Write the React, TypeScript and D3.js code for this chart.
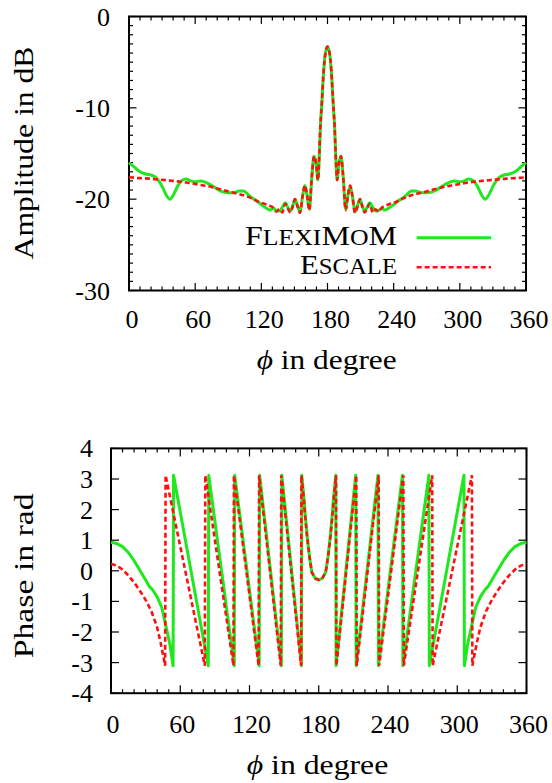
import React from 'react';
import * as d3 from 'd3';

// ---------- data ----------
const ampPhi = [0, 5, 10, 15, 20, 25, 30, 34, 37, 40, 44, 48, 52, 56, 60, 65, 70, 75, 80, 85, 90, 95, 100, 104, 108, 112, 116, 120, 124, 128, 131, 133.5, 136.5, 139, 141.8, 144, 146.3, 148.5, 150.5, 152.8, 155, 157.5, 159.5, 161.5, 163.5, 165.8, 167.8, 169.8, 171.3, 172.3, 173.5, 175, 176.5, 178, 180, 182, 183.5, 185, 186.5, 187.7, 188.7, 190.2, 192.2, 194.2, 196.5, 198.5, 200.5, 202.5, 205, 207.2, 209.5, 211.5, 213.7, 216, 218.2, 221, 223.5, 226.5, 229, 232, 236, 240, 244, 248, 252, 256, 260, 265, 270, 275, 280, 285, 290, 295, 300, 304, 308, 312, 316, 320, 323, 326, 330, 335, 340, 345, 350, 355, 360];

const ampFlexiMoM = [-16.0, -16.5, -17.0, -17.25, -17.35, -17.7, -18.6, -19.6, -20.0, -19.6, -18.6, -17.95, -17.8, -18.0, -18.1, -18.0, -18.2, -18.5, -18.9, -19.2, -19.3, -19.3, -19.1, -19.1, -19.5, -19.9, -20.2, -20.6, -20.95, -21.2, -21.0, -21.25, -21.3, -20.9, -20.4, -20.9, -21.3, -20.7, -20.0, -20.7, -21.4, -19.6, -18.5, -19.6, -21.1, -17.5, -15.3, -16.2, -17.9, -16.0, -12.2, -9.2, -6.0, -4.1, -3.3, -4.1, -6.0, -9.2, -12.2, -16.0, -17.9, -16.2, -15.3, -17.5, -21.1, -19.6, -18.6, -19.6, -21.4, -20.7, -20.0, -20.7, -21.3, -20.9, -20.4, -20.9, -21.3, -21.25, -21.0, -21.2, -20.95, -20.6, -20.2, -19.9, -19.5, -19.1, -19.1, -19.3, -19.3, -19.2, -18.9, -18.5, -18.2, -18.0, -18.1, -18.0, -17.8, -17.95, -18.6, -19.6, -20.0, -19.6, -18.6, -17.7, -17.35, -17.25, -17.0, -16.5, -16.0];

const ampEscale = [-17.6, -17.65, -17.7, -17.72, -17.78, -17.83, -17.88, -17.93, -17.97, -18.0, -18.05, -18.1, -18.17, -18.25, -18.33, -18.45, -18.55, -18.67, -18.82, -18.98, -19.15, -19.3, -19.45, -19.58, -19.75, -19.95, -20.2, -20.4, -20.55, -20.75, -20.95, -21.35, -21.1, -21.45, -20.5, -21.0, -21.45, -20.8, -20.0, -20.8, -21.5, -19.6, -18.5, -19.6, -21.2, -17.5, -15.3, -16.2, -17.9, -16.0, -12.2, -9.2, -6.0, -4.1, -3.3, -4.1, -6.0, -9.2, -12.2, -16.0, -17.9, -16.2, -15.3, -17.5, -21.2, -19.6, -18.5, -19.6, -21.5, -20.8, -20.0, -20.8, -21.45, -21.0, -20.5, -21.45, -21.1, -21.35, -20.95, -20.75, -20.55, -20.4, -20.2, -19.95, -19.75, -19.58, -19.45, -19.3, -19.15, -18.98, -18.82, -18.67, -18.55, -18.45, -18.33, -18.25, -18.17, -18.1, -18.05, -18.0, -17.97, -17.93, -17.88, -17.83, -17.78, -17.72, -17.7, -17.65, -17.6];

const phaseFlexiPhi = [0, 5, 10, 15, 20, 25, 30, 33, 36, 40, 44, 47, 51, 53.8, 54.2, 84.3, 84.7, 106.8, 107.2, 128.4, 128.8, 147.6, 148, 165, 165.3, 167, 168.5, 170, 172, 174, 177, 180, 183, 186, 188, 190, 191.5, 193, 194.7, 195, 212, 212.4, 231.3, 231.7, 252.5, 252.9, 275.4, 275.8, 305.8, 306.2, 309, 313, 316, 320, 324, 327, 330, 335, 340, 345, 350, 355, 360];
const phaseFlexiVal = [0.93, 0.89, 0.79, 0.6, 0.33, 0.02, -0.3, -0.5, -0.62, -0.85, -1.2, -1.7, -2.4, -3.1, 3.12, -3.1, 3.12, -3.1, 3.12, -3.1, 3.12, -3.1, 3.12, -3.1, 3.12, 2.45, 1.75, 1.14, 0.45, -0.05, -0.25, -0.3, -0.25, -0.05, 0.45, 1.14, 1.75, 2.45, 3.12, -3.1, 3.12, -3.1, 3.12, -3.1, 3.12, -3.1, 3.12, -3.1, 3.12, -3.1, -2.4, -1.7, -1.2, -0.85, -0.62, -0.5, -0.3, 0.02, 0.33, 0.6, 0.79, 0.89, 0.93];

const phaseEscalePhi = [0, 5, 10, 15, 20, 25, 30, 35, 40, 43, 46.9, 47.3, 81.3, 81.7, 106.1, 106.5, 127.9, 128.3, 147.1, 147.5, 164.7, 165, 166.8, 168.3, 169.8, 172, 174, 177, 180, 183, 186, 188, 190.2, 191.7, 193.2, 195, 195.3, 212.5, 212.9, 231.9, 232.3, 253.3, 253.7, 278.3, 278.7, 312.7, 313.1, 317, 320, 325, 330, 335, 340, 345, 350, 355, 360];
const phaseEscaleVal = [0.22, 0.17, 0.04, -0.15, -0.38, -0.65, -0.95, -1.32, -1.85, -2.35, -3.1, 3.12, -3.1, 3.12, -3.1, 3.12, -3.1, 3.12, -3.1, 3.12, -3.1, 3.12, 2.45, 1.75, 1.14, 0.45, -0.05, -0.25, -0.3, -0.25, -0.05, 0.45, 1.14, 1.75, 2.45, 3.12, -3.1, 3.12, -3.1, 3.12, -3.1, 3.12, -3.1, 3.12, -3.1, 3.12, -3.1, -2.35, -1.85, -1.32, -0.95, -0.65, -0.38, -0.15, 0.04, 0.17, 0.22];

const xTickLabels = [0, 60, 120, 180, 240, 300, 360];
const ampTickLabels = [0, -10, -20, -30];
const phaseTickLabels = [4, 3, 2, 1, 0, -1, -2, -3, -4];

const GREEN = '#1ee81e';
const RED = '#ff1010';
const FONT = 'Liberation Serif';

type Pt = [number, number];

function Frame({ x, y, xMinor, majLen, minLen, yTicks, yMinorStep }: any) {
  const [x0, x1] = x.range();
  const [y0, y1] = y.range(); // y0 bottom, y1 top
  const els: any[] = [];
  const xm = d3.range(0, 361, xMinor);
  xm.forEach((v: number, i: number) => {
    const len = v % 60 === 0 ? majLen : minLen;
    const px = x(v);
    els.push(<line key={'xb' + i} x1={px} x2={px} y1={y0} y2={y0 - len} />);
    els.push(<line key={'xt' + i} x1={px} x2={px} y1={y1} y2={y1 + len} />);
  });
  const [d0, d1] = y.domain();
  const ym = d3.range(d0, d1 + 1e-9, yMinorStep);
  ym.forEach((v: number, i: number) => {
    const isMaj = yTicks.some((t: number) => Math.abs(t - v) < 1e-6);
    const len = isMaj ? majLen : minLen;
    const py = y(v);
    els.push(<line key={'yl' + i} x1={x0} x2={x0 + len} y1={py} y2={py} />);
    els.push(<line key={'yr' + i} x1={x1} x2={x1 - len} y1={py} y2={py} />);
  });
  return (
    <g>
      <g stroke="#000" strokeWidth={1.2}>{els}</g>
      <rect x={x0} y={y1} width={x1 - x0} height={y0 - y1} fill="none" stroke="#000" strokeWidth={2} />
    </g>
  );
}

export default function App() {
  const W = 552, H = 783;
  const xA = d3.scaleLinear().domain([0, 360]).range([129, 526]);
  const yA = d3.scaleLinear().domain([-30, 0]).range([290.5, 16.5]);
  const xP = d3.scaleLinear().domain([0, 360]).range([111, 526.5]);
  const yP = d3.scaleLinear().domain([-4, 4]).range([693.2, 448.4]);

  const ampLine = d3.line<Pt>().x(d => xA(d[0])).y(d => yA(d[1])).curve(d3.curveMonotoneX);
  const phLine = d3.line<Pt>().x(d => xP(d[0])).y(d => yP(d[1])).curve(d3.curveLinear);

  const ampG: Pt[] = ampPhi.map((p, i) => [p, ampFlexiMoM[i]]);
  const ampR: Pt[] = ampPhi.map((p, i) => [p, ampEscale[i]]);
  const phG: Pt[] = phaseFlexiPhi.map((p, i) => [p, phaseFlexiVal[i]]);
  const phR: Pt[] = phaseEscalePhi.map((p, i) => [p, phaseEscaleVal[i]]);

  const dash = '5,3';

  return (
    <svg width={W} height={H} style={{ position: 'absolute', left: 0, top: 0, background: '#fff', fontFamily: FONT }}>
      <rect x={0} y={0} width={W} height={H} fill="#fff" />
      {/* ---------- top: amplitude ---------- */}
      <Frame x={xA} y={yA} xMinor={10} majLen={7.5} minLen={4} yTicks={ampTickLabels} yMinorStep={1} />
      <path d={ampLine(ampG) || ''} fill="none" stroke={GREEN} strokeWidth={3} strokeLinejoin="round" />
      <path d={ampLine(ampR) || ''} fill="none" stroke={RED} strokeWidth={2.6} strokeDasharray={dash} />
      {ampTickLabels.map(t => (
        <text key={'ya' + t} x={110} y={yA(t) + 9} fontSize={26} textAnchor="end">{t}</text>
      ))}
      {xTickLabels.map(t => (
        <text key={'xa' + t} x={xA(t) + 3} y={328} fontSize={26} textAnchor="middle">{t}</text>
      ))}
      <text x={256.7} y={369} fontSize={28} textLength={140} lengthAdjust="spacingAndGlyphs">
        <tspan fontStyle="italic">ϕ</tspan> in degree
      </text>
      <text x={33} y={153} fontSize={28} textAnchor="middle" transform="rotate(-90,33,153)" textLength={213} lengthAdjust="spacingAndGlyphs">Amplitude in dB</text>
      {/* legend */}
      <text x={245} y={245} fontSize={28} textLength={152} lengthAdjust="spacingAndGlyphs">
        F<tspan fontSize={22.5}>LEXI</tspan>M<tspan fontSize={22.5}>O</tspan>M
      </text>
      <line x1={416.7} x2={491} y1={237.7} y2={237.7} stroke={GREEN} strokeWidth={3} />
      <text x={300} y={274.3} fontSize={28} textLength={97} lengthAdjust="spacingAndGlyphs">
        E<tspan fontSize={22.5}>SCALE</tspan>
      </text>
      <line x1={416.7} x2={491} y1={267.3} y2={267.3} stroke={RED} strokeWidth={2.6} strokeDasharray={dash} />

      {/* ---------- bottom: phase ---------- */}
      <Frame x={xP} y={yP} xMinor={10} majLen={8} minLen={4} yTicks={phaseTickLabels} yMinorStep={1} />
      <path d={phLine(phG) || ''} fill="none" stroke={GREEN} strokeWidth={3} strokeLinejoin="round" />
      <path d={phLine(phR) || ''} fill="none" stroke={RED} strokeWidth={2.6} strokeDasharray={dash} />
      {phaseTickLabels.map(t => (
        <text key={'yp' + t} x={93} y={yP(t) + 9} fontSize={26} textAnchor="end">{t}</text>
      ))}
      {xTickLabels.map(t => (
        <text key={'xp' + t} x={xP(t) + 2} y={733} fontSize={26} textAnchor="middle">{t}</text>
      ))}
      <text x={246.7} y={774} fontSize={28} textLength={141.6} lengthAdjust="spacingAndGlyphs">
        <tspan fontStyle="italic">ϕ</tspan> in degree
      </text>
      <text x={33} y={575.8} fontSize={28} textAnchor="middle" transform="rotate(-90,33,575.8)" textLength={165} lengthAdjust="spacingAndGlyphs">Phase in rad</text>
    </svg>
  );
}
